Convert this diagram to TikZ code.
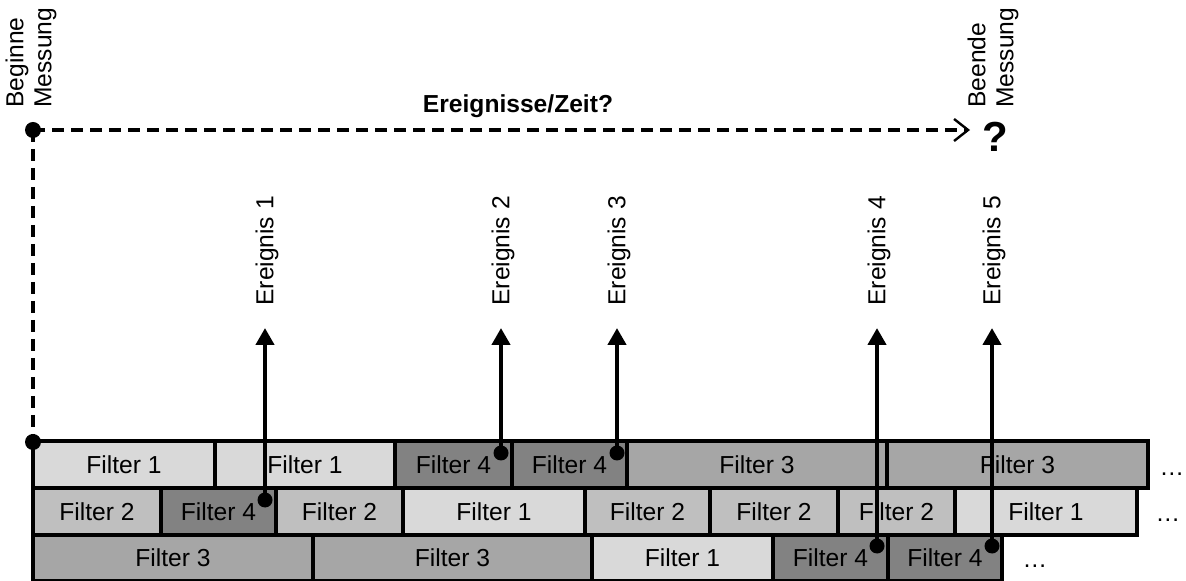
\documentclass[tikz,border=0pt]{standalone}
\usepackage{fontspec}
\setmainfont{Liberation Sans}
\usetikzlibrary{arrows.meta,calc}
\definecolor{fone}{gray}{0.85}
\definecolor{ftwo}{gray}{0.75}
\definecolor{fthree}{gray}{0.65}
\definecolor{ffour}{gray}{0.51}

% one filter block: name, x1, y1, x2, y2, fill, text
\newcommand\fcell[7]{\node[cell,fill=#6,minimum width={(#4-#2)*0.5pt},
  minimum height={(#5-#3)*0.5pt}] (#1) at ({(#2+#4)/2},{(#3+#5)/2}) {#7};}

\begin{document}
\begin{tikzpicture}[x=0.5pt,y=-0.5pt,
  txt/.style={font=\fontsize{12.3}{14}\selectfont},
  cell/.style={txt,draw=black,line width=1.6pt,inner sep=0pt,outer sep=0pt},
  evlabel/.style={txt,rotate=90,anchor=west,inner sep=0pt},
  evarrow/.style={line width=2.2pt,-{Triangle[length=8.5pt,width=9pt]}},
  dot/.style={circle,fill=black,inner sep=0pt,minimum size=7.5pt},
  timeline/.style={line width=1.6pt,dash pattern=on 6pt off 3.5pt},
  more/.style={txt,anchor=base,inner sep=0pt}]

\useasboundingbox (0,0) rectangle (1186,581);
\clip (0,0) rectangle (1186,581);

% first row of filters
\fcell{a1}{33}{441}{215}{488}{fone}{Filter 1}
\fcell{a2}{215}{441}{395}{488}{fone}{Filter 1}
\fcell{a3}{395}{441}{512}{488}{ffour}{Filter 4}
\fcell{a4}{512}{441}{627}{488}{ffour}{Filter 4}
\fcell{a5}{627}{441}{887}{488}{fthree}{Filter 3}
\fcell{a6}{887}{441}{1148}{488}{fthree}{Filter 3}

% second row
\fcell{b1}{33}{488}{161}{535}{ftwo}{Filter 2}
\fcell{b2}{161}{488}{276}{535}{ffour}{Filter 4}
\fcell{b3}{276}{488}{403}{535}{ftwo}{Filter 2}
\fcell{b4}{403}{488}{585}{535}{fone}{Filter 1}
\fcell{b5}{585}{488}{710}{535}{ftwo}{Filter 2}
\fcell{b6}{710}{488}{838}{535}{ftwo}{Filter 2}
\fcell{b7}{838}{488}{955}{535}{ftwo}{Filter 2}
\fcell{b8}{955}{488}{1137}{535}{fone}{Filter 1}

% third row
\fcell{c1}{33}{535}{313}{581}{fthree}{Filter 3}
\fcell{c2}{313}{535}{592}{581}{fthree}{Filter 3}
\fcell{c3}{592}{535}{773}{581}{fone}{Filter 1}
\fcell{c4}{773}{535}{888}{581}{ffour}{Filter 4}
\fcell{c5}{888}{535}{1002}{581}{ffour}{Filter 4}

\node[more] (m1) at (1172,476) {…};
\node[more] (m2) at (1168,521) {…};
\node[more] (m3) at (1035,567) {…};

% measurement window
\node[dot,minimum size=8pt] (start) at (33,130) {};
\node[dot,minimum size=8pt] (origin) at (33,442) {};
\coordinate (endmark) at (970,130);
\draw[timeline] (start.center) -- (origin.center);
\draw[timeline,-{Straight Barb[length=7pt,width=11pt,line width=1.2pt]}] (start.center) -- (endmark);

\node[txt,rotate=90,anchor=west,align=left,inner sep=0pt] (begin) at (31,108) {Beginne\\Messung};
\node[txt,rotate=90,anchor=west,align=left,inner sep=0pt] (finish) at (993,108) {Beende\\Messung};
\node[font=\fontsize{21}{24}\selectfont\bfseries,inner sep=0pt] (q) at (995,137) {?};
\node[font=\fontsize{12.3}{14}\selectfont\bfseries,anchor=base,inner sep=0pt] (rate) at (518,113) {Ereignisse/Zeit?};

% events fired by Filter 4
\coordinate (ytop) at (0,328);
\coordinate (e1s) at ($(b2.north east)+(-11,12)$);
\coordinate (e2s) at ($(a3.north east)+(-11,12)$);
\coordinate (e3s) at ($(a4.north east)+(-10,12)$);
\coordinate (e4s) at ($(c4.north east)+(-11,11)$);
\coordinate (e5s) at ($(c5.north east)+(-10,11)$);
\foreach \i in {1,...,5}{
  \coordinate (e\i t) at (e\i s |- ytop);
  \draw[evarrow] (e\i s) -- (e\i t);
  \node[dot] (d\i) at (e\i s) {};
  \node[evlabel] (l\i) at ($(e\i t)+(2,-22)$) {Ereignis \i};
}

\end{tikzpicture}
\end{document}
